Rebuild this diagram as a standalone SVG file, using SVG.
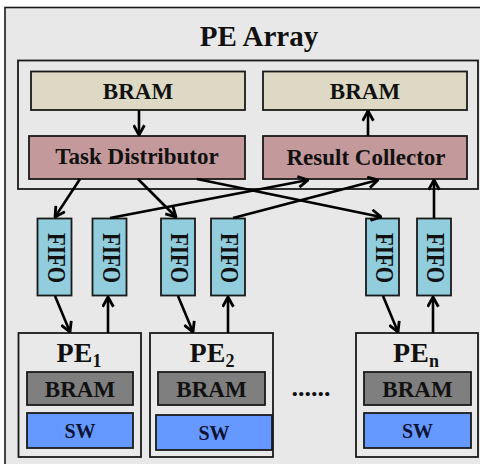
<svg xmlns="http://www.w3.org/2000/svg" width="480" height="464" viewBox="0 0 480 464">
<defs>
<style>
text{font-family:"Liberation Serif","Times New Roman",serif;font-weight:bold;text-anchor:middle;fill:#111}
.box{stroke:#1a1a1a;stroke-width:1.8}
.bram{fill:#ddd9c4}
.ctl{fill:#c3999b}
.fifo{fill:#92cddd}
.pe{fill:#e9e9e9}
.pbram{fill:#7f7f7f}
.sw{fill:#6699ff}
.lbl{font-size:23px}
.ff{font-size:21px}
.conn line{stroke:#000;stroke-width:2.6;marker-end:url(#ah)}
</style>
<marker id="ah" markerUnits="userSpaceOnUse" viewBox="0 0 12 12" refX="11" refY="6" markerWidth="13" markerHeight="13" orient="auto">
<path d="M2,1 L11,6 L2,11" fill="none" stroke="#000" stroke-width="2.6"/>
</marker>
</defs>
<rect x="0" y="0" width="480" height="464" fill="#ffffff"/>
<rect id="frame" x="5" y="7.5" width="480" height="470" fill="#e8e8e8" stroke="#1a1a1a" stroke-width="1.6"/>
<text x="259" y="46" style="font-size:29px">PE Array</text>
<rect id="inner" x="18" y="60.5" width="460" height="128.5" fill="#e8e8e8" class="box"/>
<g id="bram_in">
<rect x="31" y="71.5" width="214" height="38.5" class="box bram"/>
<text x="138" y="99" class="lbl">BRAM</text>
</g>
<g id="bram_out">
<rect x="263" y="71.5" width="204" height="38.5" class="box bram"/>
<text x="365" y="99" class="lbl">BRAM</text>
</g>
<g id="task_distributor">
<rect x="29" y="136" width="216" height="43" class="box ctl"/>
<text x="137" y="164" class="lbl">Task Distributor</text>
</g>
<g id="result_collector">
<rect x="263" y="136" width="204" height="43" class="box ctl"/>
<text x="366" y="165" class="lbl">Result Collector</text>
</g>
<g id="fifo1"><rect x="37.5" y="218.5" width="34" height="77" class="box fifo"/><text transform="translate(47.5,258) rotate(90) scale(1,1.15)" class="ff">FIFO</text></g>
<g id="fifo2"><rect x="92.5" y="218.5" width="34" height="77" class="box fifo"/><text transform="translate(102.5,258) rotate(90) scale(1,1.15)" class="ff">FIFO</text></g>
<g id="fifo3"><rect x="161" y="218.5" width="34" height="77" class="box fifo"/><text transform="translate(171,258) rotate(90) scale(1,1.15)" class="ff">FIFO</text></g>
<g id="fifo4"><rect x="211" y="218.5" width="34" height="77" class="box fifo"/><text transform="translate(221,258) rotate(90) scale(1,1.15)" class="ff">FIFO</text></g>
<g id="fifo5"><rect x="366" y="218.5" width="33" height="77" class="box fifo"/><text transform="translate(375.5,258) rotate(90) scale(1,1.15)" class="ff">FIFO</text></g>
<g id="fifo6"><rect x="417" y="218.5" width="34" height="77" class="box fifo"/><text transform="translate(427,258) rotate(90) scale(1,1.15)" class="ff">FIFO</text></g>
<g id="pe1">
<rect x="18.5" y="333" width="122.5" height="124" class="box pe"/>
<text x="79" y="362" style="font-size:28px">PE<tspan style="font-size:18px" dy="5">1</tspan></text>
<rect x="27" y="372" width="106" height="33" class="box pbram"/>
<text x="80" y="397" class="lbl">BRAM</text>
<rect x="27" y="413" width="106" height="35" class="box sw"/>
<text x="80" y="438" style="font-size:20px;fill:#0d1433">SW</text>
</g>
<g id="pe2">
<rect x="150" y="333" width="123" height="124" class="box pe"/>
<text x="212" y="362" style="font-size:28px">PE<tspan style="font-size:18px" dy="5">2</tspan></text>
<rect x="158" y="372" width="107" height="33" class="box pbram"/>
<text x="211.5" y="397" class="lbl">BRAM</text>
<rect x="156" y="415" width="116" height="35" class="box sw"/>
<text x="214" y="440" style="font-size:20px;fill:#0d1433">SW</text>
</g>
<text id="ellipsis" x="311" y="396" style="font-size:26px">......</text>
<g id="pen">
<rect x="356" y="333" width="122" height="124" class="box pe"/>
<text x="416" y="362" style="font-size:28px">PE<tspan style="font-size:18px" dy="5">n</tspan></text>
<rect x="364" y="372" width="107" height="33" class="box pbram"/>
<text x="417.5" y="397" class="lbl">BRAM</text>
<rect x="364" y="413" width="107" height="35" class="box sw"/>
<text x="417.5" y="438" style="font-size:20px;fill:#0d1433">SW</text>
</g>
<g id="connectors" class="conn">
<line x1="139" y1="110" x2="139" y2="135"/>
<line x1="368" y1="136" x2="368" y2="111"/>
<line x1="80" y1="179" x2="55" y2="217"/>
<line x1="138" y1="179" x2="176" y2="217"/>
<line x1="197" y1="179" x2="381" y2="217"/>
<line x1="110" y1="218" x2="308" y2="180"/>
<line x1="233" y1="218" x2="378" y2="180"/>
<line x1="434" y1="218" x2="434" y2="180"/>
<line x1="55" y1="296" x2="70" y2="332"/>
<line x1="108" y1="333" x2="108" y2="297"/>
<line x1="178" y1="296" x2="193" y2="332"/>
<line x1="228" y1="333" x2="228" y2="297"/>
<line x1="383" y1="296" x2="398" y2="332"/>
<line x1="433" y1="333" x2="433" y2="297"/>
</g>
</svg>
